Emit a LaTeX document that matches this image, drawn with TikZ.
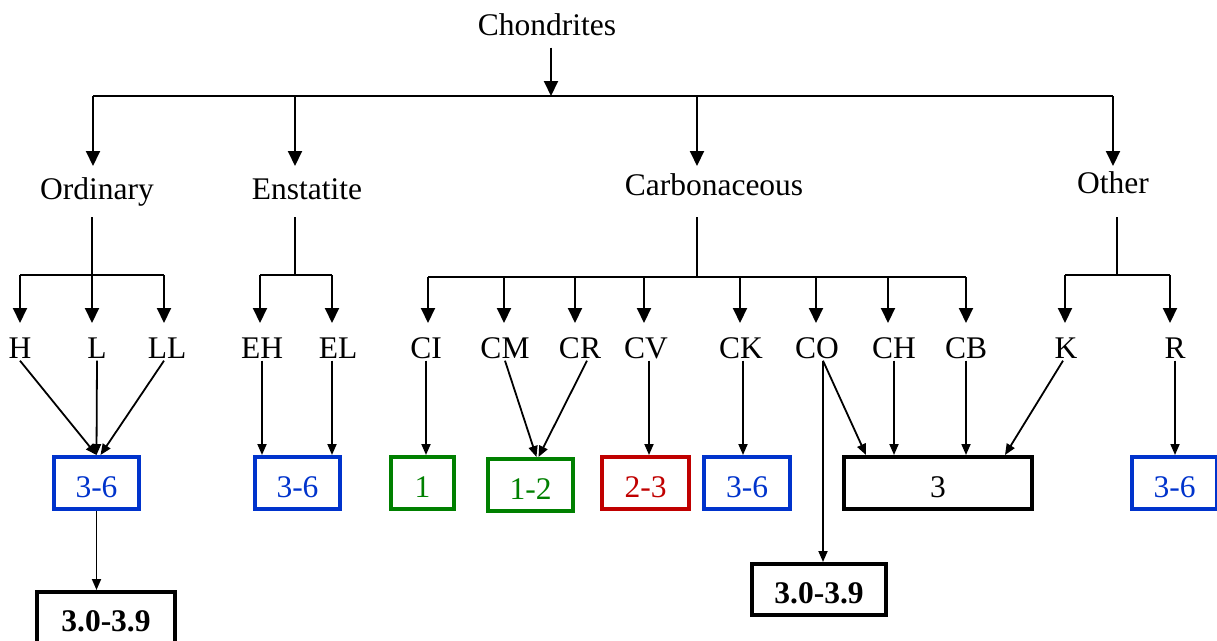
\documentclass[tikz,border=0pt]{standalone}
\usepackage{fontspec}
\setmainfont{Liberation Serif}
\usetikzlibrary{arrows.meta}
\definecolor{cblue}{RGB}{0,51,204}
\definecolor{cgreen}{RGB}{0,128,0}
\definecolor{cred}{RGB}{192,0,0}
\begin{document}
\begin{tikzpicture}[x=1pt,y=-1pt,
  font=\fontsize{31.5}{36}\selectfont,
  lbl/.style={inner sep=2pt, text height=21pt, text depth=0pt},
  big/.style={line width=2pt, -{Triangle[length=15pt,width=14pt]}},
  thin/.style={line width=1.8pt, -{Triangle[length=11pt,width=9pt]}},
  plain/.style={line width=2pt},
  box/.style={draw, line width=4pt, minimum height=52pt, inner sep=0pt, text height=28pt, text depth=0pt},
  bluebox/.style={box, draw=cblue, text=cblue, minimum width=85pt},
]
\useasboundingbox (0,0) rectangle (1217,640);

% rows
\coordinate (rowA) at (0,166);
\coordinate (rowS) at (0,217);
\coordinate (rowB) at (0,323);

% top level
\node[lbl] (chon) at (547,25) {Chondrites};
\coordinate (hub) at (551,96);
\coordinate (oOrd) at (93,96);
\coordinate (oEns) at (295,96);
\coordinate (oCar) at (697,96);
\coordinate (oOth) at (1113,96);
\draw[big] ([xshift=4pt,yshift=-10pt]chon.south) -- (hub);
\draw[plain] (oOrd) -- (oOth);
\foreach \c in {oOrd,oEns,oCar,oOth} \draw[big] (\c) -- (\c |- rowA);

\node[lbl] (ord) at (97,189) {Ordinary};
\node[lbl] (ens) at (307,189) {Enstatite};
\node[lbl] (car) at (714,185) {Carbonaceous};
\node[lbl] (oth) at (1113,183) {Other};

% second level labels
\foreach \n/\x in {H/20, L/97, LL/167, EH/262, EL/338, CI/426, CM/505, CR/580, CV/646, CK/741, CO/817, CH/894, CB/966, K/1066, R/1175}
  \node[lbl] (\n) at (\x,348) {\n};

% Ordinary branch
\coordinate (jH) at (20,275);
\coordinate (jL) at (92,275);
\coordinate (jLL) at (164,275);
\draw[plain] (jH) -- (jLL);
\draw[big] (jL |- rowS) -- (jL |- rowB);
\draw[big] (jH) -- (jH |- rowB);
\draw[big] (jLL) -- (jLL |- rowB);

% Enstatite branch
\coordinate (jEns) at (295,275);
\coordinate (jEH) at (260,275);
\coordinate (jEL) at (332,275);
\draw[plain] (jEns |- rowS) -- (jEns);
\draw[plain] (jEH) -- (jEL);
\draw[big] (jEH) -- (jEH |- rowB);
\draw[big] (jEL) -- (jEL |- rowB);

% Carbonaceous branch
\coordinate (jCar) at (697,277);
\draw[plain] (jCar |- rowS) -- (jCar);
\foreach \n/\x in {CI/428, CM/504, CR/575, CV/644, CK/740, CO/816, CH/888, CB/966}
  \coordinate (j\n) at (\x,277);
\draw[plain] (jCI) -- (jCB);
\foreach \n in {CI,CM,CR,CV,CK,CO,CH,CB}
  \draw[big] (j\n) -- (j\n |- rowB);

% Other branch
\coordinate (jOth) at (1117,275);
\coordinate (jK) at (1065,275);
\coordinate (jR) at (1170,275);
\draw[plain] (jOth |- rowS) -- (jOth);
\draw[plain] (jK) -- (jR);
\draw[big] (jK) -- (jK |- rowB);
\draw[big] (jR) -- (jR |- rowB);

% boxes
\node[bluebox] (b1) at (96.5,483) {3-6};
\node[bluebox] (b2) at (297.5,483) {3-6};
\node[box, draw=cgreen, text=cgreen, minimum width=63pt] (b3) at (422.5,483) {1};
\node[box, draw=cgreen, text=cgreen, minimum width=85pt] (b4) at (530.5,485) {1-2};
\node[box, draw=cred, text=cred, minimum width=87pt] (b5) at (645.5,483) {2-3};
\node[bluebox, minimum width=86pt] (b6) at (747,483) {3-6};
\node[box, minimum width=188pt] (b7) at (938,483) {3};
\node[bluebox] (b8) at (1174.5,483) {3-6};
\node[box, minimum width=138pt, minimum height=51pt, font=\fontsize{31.5}{36}\selectfont\bfseries] (bb1) at (106,617.5) {3.0-3.9};
\node[box, minimum width=134pt, minimum height=51pt, font=\fontsize{31.5}{36}\selectfont\bfseries] (bb2) at (819,589.5) {3.0-3.9};

% connectors to boxes
\draw[thin] (H.south) -- (b1.north);
\draw[thin] (L.south) -- (b1.north);
\draw[thin] ([xshift=-3pt]LL.south) -- ([xshift=4pt]b1.north);
\draw[thin] (EH.south) -- (EH.south |- b2.north);
\draw[thin] ([xshift=-6pt]EL.south) -- ([xshift=-6pt]EL.south |- b2.north);
\draw[thin] (CI.south) -- (CI.south |- b3.north);
\draw[thin] (CM.south) -- ([xshift=6pt]b4.north);
\draw[thin] ([xshift=7pt]CR.south) -- ([xshift=8pt]b4.north);
\draw[thin] ([xshift=3pt]CV.south) -- ([xshift=3pt]CV.south |- b5.north);
\draw[thin] ([xshift=2pt]CK.south) -- ([xshift=2pt]CK.south |- b6.north);
\draw[thin] ([xshift=6pt]CO.south) -- ([xshift=-72pt]b7.north);
\draw[thin] ([xshift=6pt]CO.south) -- ([xshift=4pt]bb2.north);
\draw[thin] (CH.south) -- (CH.south |- b7.north);
\draw[thin] (CB.south) -- (CB.south |- b7.north);
\draw[thin] ([xshift=-3pt]K.south) -- ([xshift=67pt]b7.north);
\draw[thin] (R.south) -- (R.south |- b8.north);
\draw[thin] (b1.south) -- (b1.south |- bb1.north);
\end{tikzpicture}
\end{document}
